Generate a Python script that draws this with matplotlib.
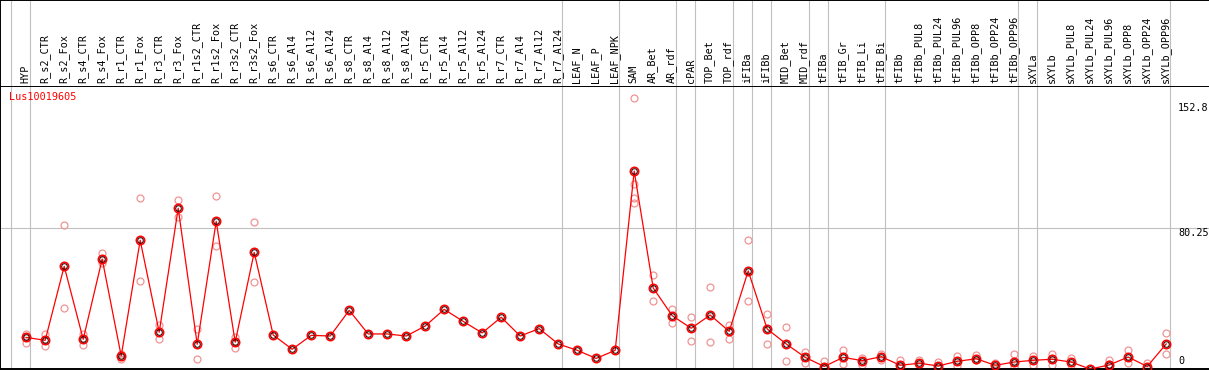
import matplotlib
matplotlib.use("Agg")
import matplotlib.pyplot as plt

plt.rcParams['font.family'] = ['DejaVu Sans Mono']

# sample names, in plot order
labels = ["HYP", "R_s2_CTR", "R_s2_Fox", "R_s4_CTR", "R_s4_Fox", "R_r1_CTR", "R_r1_Fox",
          "R_r3_CTR", "R_r3_Fox", "R_r1s2_CTR", "R_r1s2_Fox", "R_r3s2_CTR", "R_r3s2_Fox",
          "R_s6_CTR", "R_s6_Al4", "R_s6_Al12", "R_s6_Al24", "R_s8_CTR", "R_s8_Al4", "R_s8_Al12",
          "R_s8_Al24", "R_r5_CTR", "R_r5_Al4", "R_r5_Al12", "R_r5_Al24", "R_r7_CTR", "R_r7_Al4",
          "R_r7_Al12", "R_r7_Al24", "LEAF_N", "LEAF_P", "LEAF_NPK", "SAM", "AR_Bet", "AR_rdf",
          "cPAR", "TOP_Bet", "TOP_rdf", "iFIBa", "iFIBb", "MID_Bet", "MID_rdf", "tFIBa",
          "tFIB_Gr", "tFIB_Li", "tFIB_Bi", "tFIBb", "tFIBb_PUL8", "tFIBb_PUL24", "tFIBb_PUL96",
          "tFIBb_OPP8", "tFIBb_OPP24", "tFIBb_OPP96", "sXYLa", "sXYLb", "sXYLb_PUL8",
          "sXYLb_PUL24", "sXYLb_PUL96", "sXYLb_OPP8", "sXYLb_OPP24", "sXYLb_OPP96"]

# mean expression per sample
means = [16.9, 15.2, 58.2, 15.8, 62.4, 6.1, 73.3, 19.9, 91.9, 12.9, 84.3, 14.1, 66.3,
         18.3, 10.0, 18.1, 17.7, 32.6, 18.9, 18.9, 17.7, 23.5, 33.2, 26.2, 19.5, 28.6, 17.7,
         22.0, 13.1, 9.4, 4.7, 9.4, 113.5, 45.6, 29.5, 22.2, 29.9, 20.4, 55.5, 21.8, 13.1,
         5.3, 0.0, 5.3, 3.4, 5.7, 0.7, 1.9, 0.3, 3.0, 4.5, 0.7, 2.6, 3.6, 4.2, 2.6,
         -1.5, 0.9, 5.5, 0.0, 13.1]

# replicate values (only the ones visible apart from the mean)
reps = [[18.7, 17.0, 13.8], [18.7, 11.7], [82.0, 33.8], [18.7, 12.7], [65.7, 59.9],
        [7.4, 4.4], [97.7, 49.5], [24.1, 15.8], [96.5, 87.0], [21.6, 4.2], [98.8, 70.2],
        [17.0, 10.6], [83.7, 48.9],
        [], [], [], [], [], [], [], [], [], [], [], [], [], [], [], [], [], [], [],
        [155.7, 106.0, 98.0, 94.8], [53.0, 37.9], [33.4, 25.1], [28.6, 15.0], [46.2, 14.0],
        [24.1, 16.1], [73.5, 37.9], [30.5, 13.1], [22.8, 3.2], [8.6, 2.2], [3.0, 0.0],
        [9.4, 1.3], [4.8, 0.9], [7.4, 3.8], [3.6, 0.0], [3.6, 0.9], [2.8, 0.0], [6.3, 0.5],
        [6.7, 3.6], [1.9, 0.0], [7.4, 0.0], [6.3, 0.9], [7.4, 0.9], [4.8, 0.9], [],
        [3.6, 1.3], [9.6, 1.9], [1.9], [19.3, 7.1]]

# group separators (slot boundaries)
group_edges = [0, 1, 29, 32, 35, 36, 38, 39, 40, 42, 43, 46, 53, 54, 61]

gene = "Lus10019605"
ytick_vals = [152.8, 80.25, 0]
ytick_text = ["152.8", "80.25", "0"]

W, H = 1209, 370
fig = plt.figure(figsize=(W / 100, H / 100), dpi=100)

# pixel -> slot units: x_pix = 11 + 19*u
xmin = (0 - 11) / 19
xmax = (W - 11) / 19

top_px = 86
bot_px = 369
ax = fig.add_axes([0, (H - bot_px) / H, 1, (bot_px - top_px) / H])
axh = fig.add_axes([0, (H - top_px) / H, 1, top_px / H])

grey = '#c0c0c0'
for a in (ax, axh):
    a.set_xlim(xmin, xmax)
    a.set_xticks([])
    a.set_yticks([])
    for s in a.spines.values():
        s.set_visible(False)
    for e in group_edges:
        a.axvline(e, color=grey, lw=0.8, zorder=0)

ax.set_ylim((366.5 - bot_px) / 1.722, (366.5 - top_px) / 1.722)
axh.set_ylim(0, 1)

# borders
for s in ('left', 'bottom', 'top'):
    ax.spines[s].set_visible(True)
    ax.spines[s].set_linewidth(1.4)
    ax.spines[s].set_color('black')
for s in ('left', 'top'):
    axh.spines[s].set_visible(True)
    axh.spines[s].set_linewidth(1.4)
    axh.spines[s].set_color('black')

ax.axhline(80.25, color=grey, lw=0.8, zorder=0)

xs = [i + 0.8 for i in range(len(labels))]

# replicates
for x, r in zip(xs, reps):
    if r:
        ax.plot([x] * len(r), r, 'o', ms=5, mfc='none', mec='#f09494', mew=0.9,
                clip_on=False, zorder=2)

# mean line and markers
ax.plot(xs, means, '-', color='red', lw=0.9, zorder=3)
ax.plot(xs, means, 'o', ms=6, mfc='none', mec='red', mew=1.2, zorder=4, clip_on=False)
ax.plot(xs, means, 'o', ms=4.0, mfc='none', mec='#200000', mew=0.7, zorder=5, clip_on=False)

# header labels
for x, lab in zip(xs, labels):
    axh.text(x - 0.03, 0.035, lab, rotation=90, ha='center', va='bottom', fontsize=7.3)

# y labels on the right
ylab_x = (1178 - 11) / 19
for v, t in zip(ytick_vals, ytick_text):
    ax.text(ylab_x, v, t, ha='left', va='bottom' if v == 0 else 'top', fontsize=7.3)

ax.text(9 / W, (bot_px - 97) / (bot_px - top_px), gene, transform=ax.transAxes,
        color='red', ha='left', va='center', fontsize=7.3)

fig.savefig("out.png", dpi=100)
